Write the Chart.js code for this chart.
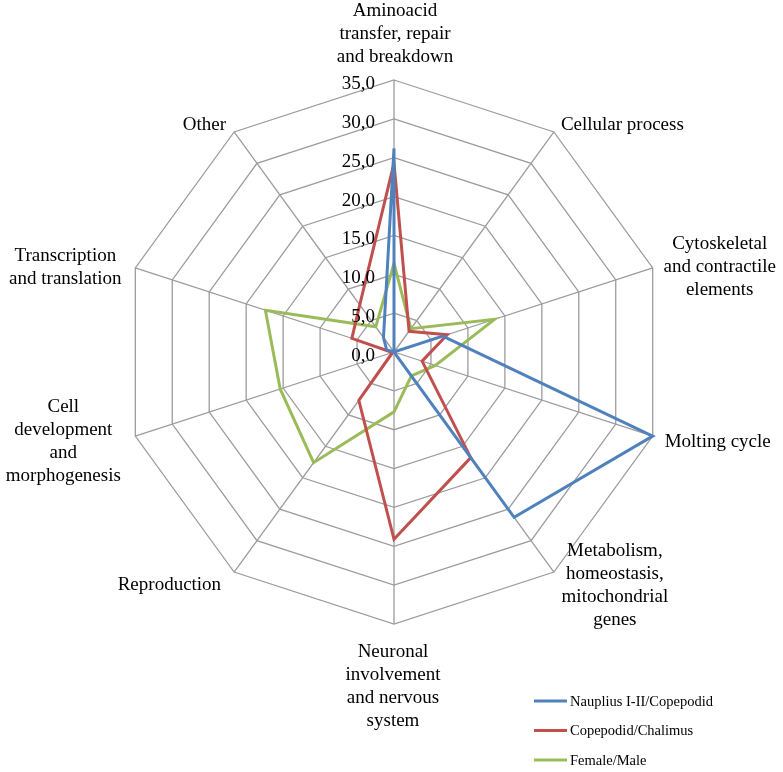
<!DOCTYPE html>
<html>
<head>
<meta charset="utf-8">
<title>Radar</title>
<script src="https://cdn.jsdelivr.net/npm/chart.js@4.4.1/dist/chart.umd.min.js"></script>
<style>
  html, body { margin: 0; padding: 0; background: #fff; }
  #wrap { position: relative; width: 783px; height: 772px; }
</style>
</head>
<body>
<div id="wrap"><canvas id="chartRadar"></canvas></div>
<script>
/* ─── Data ───────────────────────────────────────────────── */
const categories = [
  ['Aminoacid', 'transfer, repair', 'and breakdown'],
  ['Cellular process'],
  ['Cytoskeletal', 'and contractile', 'elements'],
  ['Molting cycle'],
  ['Metabolism,', 'homeostasis,', 'mitochondrial', 'genes'],
  ['Neuronal', 'involvement', 'and nervous', 'system'],
  ['Reproduction'],
  ['Cell', 'development', 'and', 'morphogenesis'],
  ['Transcription', 'and translation'],
  ['Other'],
];
const nauplius   = [26.2, 0.0, 6.6, 35.0, 26.3, 0.0, 0.0, 0.0, 1.0, 2.3];
const copepodid  = [24.3, 3.3, 7.2, 3.8, 16.8, 24.1, 7.7, 0.2, 5.7, 7.5];
const femaleMale = [11.4, 3.7, 13.6, 5.6, 3.8, 7.7, 17.6, 15.4, 17.4, 4.0];
const seriesNames = ['Nauplius I-II/Copepodid', 'Copepodid/Chalimus', 'Female/Male'];
const axisMin = 0, axisMax = 35, axisStep = 5;

/* ─── Style ──────────────────────────────────────────────── */
const FONT  = '"Liberation Serif", "Times New Roman", serif';
const BLUE  = '#4f81bd';
const RED   = '#c0504d';
const GREEN = '#9bbb59';
const GRID  = '#9c9c9c';
const TEXT  = '#000';
const LINE_H = 23;

// offset of each category label from its outer vertex: [dx, dy of first line, align]
const labelPlacement = [
  [1, -69, 'center'],
  [7, -7, 'left'],
  [67, -24, 'center'],
  [12, 6, 'left'],
  [61, -21, 'center'],
  [-1, 28, 'center'],
  [-13, 13, 'right'],
  [-72, -29, 'center'],
  [-70, -12, 'center'],
  [-8, -7, 'right'],
];

const fmt = v => v.toFixed(1).replace('.', ',');

/* ─── Labels, ticks, legend ──────────────────────────────── */
const overlay = {
  id: 'overlay',
  afterDraw(chart) {
    const { ctx } = chart;
    const scale = chart.scales.r;
    ctx.save();
    ctx.fillStyle = TEXT;
    ctx.font = `19px ${FONT}`;

    // tick values, left of the top axis
    ctx.textAlign = 'right';
    ctx.textBaseline = 'middle';
    scale.ticks.forEach((t) => {
      const y = scale.yCenter - scale.getDistanceFromCenterForValue(t.value);
      ctx.fillText(fmt(t.value), scale.xCenter - 19, y + 4);
    });

    // category labels
    chart.data.labels.forEach((lines, i) => {
      const p = scale.getPointPosition(i, scale.drawingArea);
      const [dx, dy, align] = labelPlacement[i];
      ctx.textAlign = align;
      lines.forEach((line, k) => ctx.fillText(line, p.x + dx, p.y + dy + k * LINE_H));
    });

    // legend, bottom right
    ctx.font = `14.5px ${FONT}`;
    ctx.textAlign = 'left';
    chart.data.datasets.forEach((ds, i) => {
      const y = 701 + i * 29.5;
      ctx.strokeStyle = ds.borderColor;
      ctx.lineWidth = 3;
      ctx.beginPath();
      ctx.moveTo(534, y);
      ctx.lineTo(567, y);
      ctx.stroke();
      ctx.fillText(ds.label, 570, y + 1);
    });
    ctx.restore();
  },
};

/* ─── Chart ──────────────────────────────────────────────── */
const line = (label, data, color) => ({
  label, data,
  borderColor: color,
  backgroundColor: color,
  borderWidth: 3,
  pointRadius: 0,
  fill: false,
  tension: 0,
});

new Chart(document.getElementById('chartRadar'), {
  type: 'radar',
  data: {
    labels: categories,
    datasets: [
      line(seriesNames[0], nauplius, BLUE),
      line(seriesNames[1], copepodid, RED),
      line(seriesNames[2], femaleMale, GREEN),
    ],
  },
  options: {
    responsive: true,
    maintainAspectRatio: false,
    animation: false,
    layout: { padding: { left: 122, right: 117, top: 80, bottom: 148 } },
    plugins: { legend: { display: false }, tooltip: { enabled: false } },
    scales: {
      r: {
        min: axisMin,
        max: axisMax,
        ticks: { stepSize: axisStep, display: false },
        grid: { color: GRID, lineWidth: 1.3, circular: false },
        angleLines: { color: GRID, lineWidth: 1.3 },
        pointLabels: { display: false },
      },
    },
  },
  plugins: [overlay],
});
</script>
</body>
</html>
